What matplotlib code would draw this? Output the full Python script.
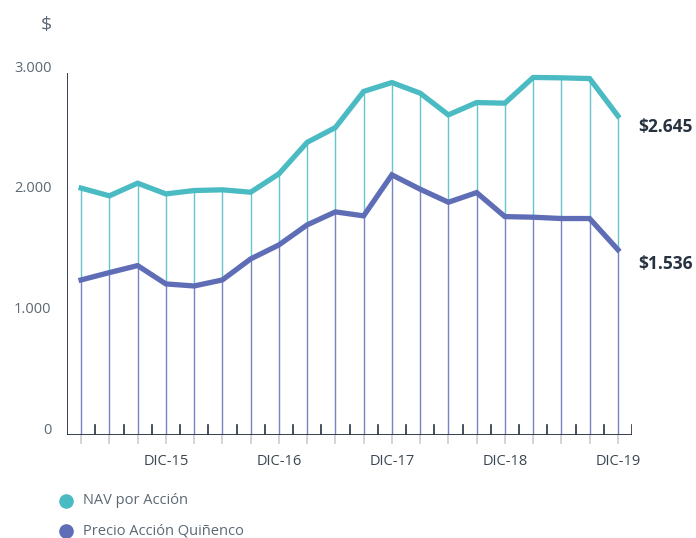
import matplotlib.pyplot as plt
import numpy as np

# datos trimestrales mar-15 .. dic-19
nav = [2046, 1982, 2087, 1998, 2026, 2032, 2012, 2164, 2425, 2548,
       2847, 2921, 2833, 2653, 2755, 2750, 2963, 2960, 2954, 2645]
precio = [1285, 1346, 1404, 1252, 1235, 1285, 1459, 1575, 1741, 1849,
          1816, 2156, 2037, 1929, 2009, 1810, 1805, 1794, 1794, 1536]
etiquetas_x = {3: "DIC-15", 7: "DIC-16", 11: "DIC-17", 15: "DIC-18", 19: "DIC-19"}
ticks_y = [0, 1000, 2000, 3000]
ticks_y_txt = ["0", "1.000", "2.000", "3.000"]

teal = "#4BBBC3"
morado = "#5E6DB6"
gris = "#5C6873"
oscuro = "#26323F"

plt.rcParams['font.family'] = ['Open Sans', 'DejaVu Sans']

fig = plt.figure(figsize=(6.96, 5.38), dpi=100)
W, H = 696, 538
ax = fig.add_axes([67 / W, (H - 435) / H, (632 - 67) / W, (435 - 73) / H])
ax.set_xlim(-0.5, 19.5)
ax.set_ylim(0, 3000)
for s in ax.spines.values():
    s.set_visible(False)
ax.set_xticks([])
ax.set_yticks([])

x = np.arange(len(nav))

# lineas verticales
for i in x:
    ax.plot([i, i], [0, precio[i]], color=morado, lw=1.0, alpha=0.85, zorder=1)
    ax.plot([i, i], [precio[i], nav[i]], color=teal, lw=1.0, alpha=0.85, zorder=1)
    # tick gris bajo la base
    ax.plot([i, i], [0, -65], color="#C9CCD0", lw=1.2, clip_on=False, zorder=1)
    # tick negro sobre la base
    ax.plot([i + 0.5, i + 0.5], [0, 80], color=oscuro, lw=1.2, zorder=2)

# ejes
ax.plot([-0.5, -0.5], [0, 3000], color=oscuro, lw=1.3, zorder=3)
ax.plot([-0.5, 19.5], [0, 0], color=oscuro, lw=1.3, zorder=3)

ax.plot(x, nav, color=teal, lw=3.8, solid_joinstyle='miter', zorder=4)
ax.plot(x, precio, color=morado, lw=3.8, solid_joinstyle='miter', zorder=4)

for v, t in zip(ticks_y, ticks_y_txt):
    ax.text(-1.05, v + 40, t, ha='right', va='center', fontsize=10.5, color=gris)
for i, t in etiquetas_x.items():
    ax.text(i, -220, t, ha='center', va='center', fontsize=10.5, color="#3A4652")

ax.text(19.72, 2555, "$2.645", ha='left', va='center', fontsize=12.5,
        fontweight='bold', color=oscuro, clip_on=False)
ax.text(19.72, 1418, "$1.536", ha='left', va='center', fontsize=12.5,
        fontweight='bold', color=oscuro, clip_on=False)

fig.text(46 / W, 1 - 25 / H, "$", ha='center', va='center', fontsize=14, color=gris)

# leyenda
for yy, col, txt in [(501, teal, "NAV por Acción"), (531, morado, "Precio Acción Quiñenco")]:
    fig.lines.append(plt.Line2D([66 / W], [1 - yy / H], marker='o', markersize=9.5,
                                color=col, linestyle='none', transform=fig.transFigure))
    fig.text(83 / W, 1 - yy / H, txt, ha='left', va='center', fontsize=10.5, color=gris)

fig.savefig("out.png", dpi=100)
